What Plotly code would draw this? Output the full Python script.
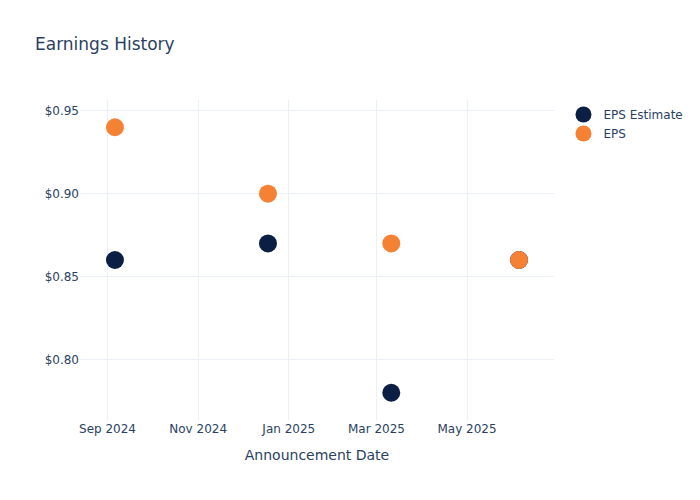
import plotly.graph_objects as go

dates = ["2024-09-06", "2024-12-18", "2025-03-11", "2025-06-05"]
eps_estimate = [0.86, 0.87, 0.78, 0.86]
eps_actual = [0.94, 0.90, 0.87, 0.86]

fig = go.Figure()
fig.add_trace(go.Scatter(
    x=dates, y=eps_estimate,
    mode="markers",
    name="EPS Estimate",
    marker=dict(size=18, color="#0b1f44"),
))
fig.add_trace(go.Scatter(
    x=dates, y=eps_actual,
    mode="markers",
    name="EPS",
    marker=dict(size=18, color="#f58134"),
))

fig.update_layout(
    template="plotly_white",
    width=700, height=500,
    font=dict(family="DejaVu Sans"),
    title=dict(text="Earnings History"),
    xaxis=dict(title="Announcement Date"),
    yaxis=dict(tickprefix="$", tickformat=".2f"),
)

# page body margin would push the 700x500 figure off by 8px
fig.write_html("out.html", config={"displayModeBar": False},
               post_script="document.body.style.margin='0';")
